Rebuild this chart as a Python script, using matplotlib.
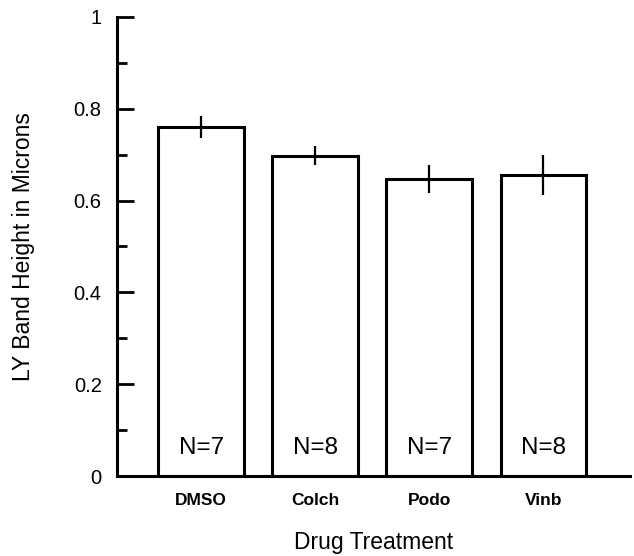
import matplotlib
matplotlib.use("Agg")
import matplotlib.pyplot as plt
from matplotlib.ticker import MultipleLocator

categories = ["DMSO", "Colch", "Podo", "Vinb"]
values = [0.760, 0.698, 0.647, 0.656]
errors = [0.024, 0.021, 0.031, 0.044]
n_labels = ["N=7", "N=8", "N=7", "N=8"]
y_ticks = [0, 0.2, 0.4, 0.6, 0.8, 1]
y_tick_labels = ["0", "0.2", "0.4", "0.6", "0.8", "1"]

plt.rcParams['font.family'] = ['Liberation Sans', 'DejaVu Sans']

fig = plt.figure(figsize=(6.34, 5.56), dpi=100)
ax = fig.add_axes([117/634, 80/556, 513/634, 459/556])

x = list(range(len(categories)))
ax.bar(x, values, width=0.75, color='white', edgecolor='black', linewidth=2.2, zorder=2)
ax.errorbar(x, values, yerr=errors, fmt='none', ecolor='black', elinewidth=1.6, capsize=0, zorder=3)

for xi, lab in zip(x, n_labels):
    ax.text(xi, 0.036, lab, ha='center', va='bottom', fontsize=17.5, zorder=4)

ax.set_xlim(-0.737, 3.76)
ax.set_ylim(0, 1)

ax.spines['top'].set_visible(False)
ax.spines['right'].set_visible(False)
ax.spines['left'].set_linewidth(2.2)
ax.spines['bottom'].set_linewidth(2.2)

ax.set_xticks(x)
ax.set_xticklabels(categories, fontsize=12.5, fontweight='bold')
ax.tick_params(axis='x', length=0, pad=12)

ax.set_yticks(y_ticks)
ax.set_yticklabels(y_tick_labels, fontsize=14.5)
ax.yaxis.set_minor_locator(MultipleLocator(0.1))
ax.tick_params(axis='y', which='major', direction='in', length=12, width=2, pad=11)
ax.tick_params(axis='y', which='minor', direction='in', length=7, width=2)

ax.set_ylabel("LY Band Height in Microns", fontsize=16.5, labelpad=28)
ax.set_xlabel("Drug Treatment", fontsize=16.5, labelpad=17)

fig.savefig("out.png", dpi=100)
